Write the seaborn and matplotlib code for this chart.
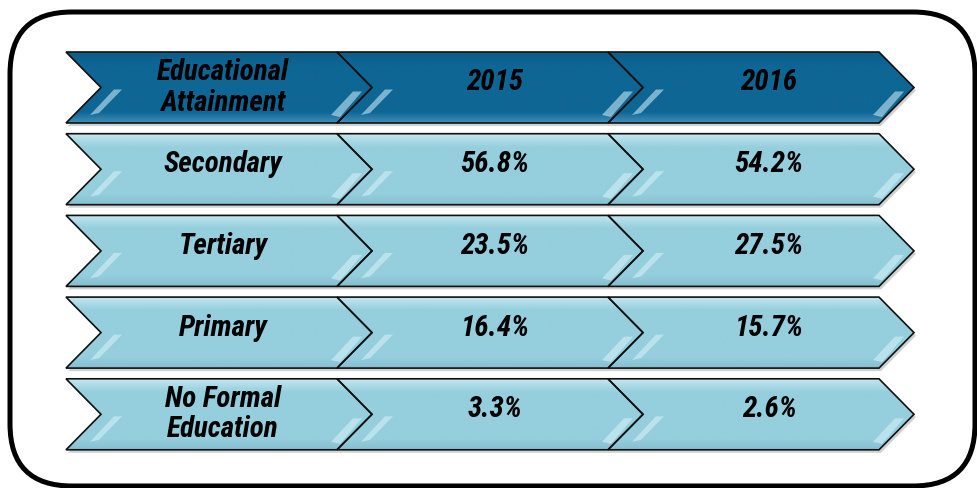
import numpy as np
import pandas as pd
import matplotlib
matplotlib.use('Agg')
import matplotlib.pyplot as plt
from matplotlib import font_manager
from matplotlib.patches import Polygon, FancyBboxPatch
import seaborn as sns

# table contents
header_label = 'Educational\nAttainment'
years = ['2015', '2016']
categories = ['Secondary', 'Tertiary', 'Primary', 'No Formal\nEducation']
share_2015 = [56.8, 23.5, 16.4, 3.3]
share_2016 = [54.2, 27.5, 15.7, 2.6]

df = pd.DataFrame({'category': categories, '2015': share_2015, '2016': share_2016})

sns.set_theme(style='white')

# reference uses a narrow bold italic face; use one if it is around
installed = {f.name for f in font_manager.fontManager.ttflist}
narrow = [n for n in ['Liberation Sans Narrow', 'Arial Narrow', 'Roboto Condensed',
                      'Open Sans Condensed'] if n in installed]
if narrow:
    plt.rcParams['font.family'] = [narrow[0], 'Liberation Sans', 'DejaVu Sans']
    font_size, line_sp = 21, 1.1
else:
    plt.rcParams['font.family'] = ['Liberation Sans', 'DejaVu Sans']
    font_size, line_sp = 18, 1.2

# layout (pixels)
col_left = [66, 337, 608]
body_w = 271
depth = 35
text_dx = [157, 158, 161]
row_top0 = 52
row_step = 81.7
row_h = 71

dark = '#0e6695'
light = '#95cedd'

fig = plt.figure(figsize=(9.77, 4.88), dpi=100)
ax = fig.add_axes([0, 0, 1, 1])
ax.set_xlim(0, 977)
ax.set_ylim(488, 0)
ax.axis('off')

border = FancyBboxPatch((10, 12), 965, 474, boxstyle='round,pad=0,rounding_size=62',
                        fill=False, ec='black', lw=3.6, zorder=1)
ax.add_patch(border)


def gradient(base, top_light, bottom_light):
    c = np.array(matplotlib.colors.to_rgb(base))
    t = np.array(matplotlib.colors.to_rgb(top_light))
    b = np.array(matplotlib.colors.to_rgb(bottom_light))
    pos = np.linspace(0, 1, 64)
    w_top = np.clip(1 - pos / 0.18, 0, 1)
    w_bot = np.clip((pos - 0.85) / 0.15, 0, 1)
    img = c[None, :] * (1 - w_top - w_bot)[:, None] + t[None, :] * w_top[:, None] + b[None, :] * w_bot[:, None]
    return img[:, None, :]


def chevron(left, top, color, top_light, bottom_light):
    bottom = top + row_h
    mid = top + row_h / 2
    right = left + body_w
    pts = [(left, top), (right, top), (right + depth, mid), (right, bottom),
           (left, bottom), (left + depth, mid)]
    # drop shadow
    shadow = Polygon([(x + 2, y + 3) for x, y in pts], closed=True, fc='black',
                     ec='none', alpha=0.18, zorder=2)
    ax.add_patch(shadow)
    poly = Polygon(pts, closed=True, fc=color, ec='none', zorder=3)
    ax.add_patch(poly)
    im = ax.imshow(gradient(color, top_light, bottom_light), aspect='auto',
                   extent=(left, right + depth, bottom, top), zorder=3.5,
                   interpolation='bilinear')
    im.set_clip_path(poly)
    outline = Polygon(pts, closed=True, fill=False, ec='#111111', lw=1.2, zorder=5)
    ax.add_patch(outline)
    # glossy curls
    curl_l = [(left + 24, bottom - 8), (left + 48, mid + 2), (left + 56, mid + 2), (left + 33, bottom - 10)]
    curl_r = [(right - 6, bottom - 8), (right + 16, mid + 4), (right + 25, mid + 4), (right + 3, bottom - 6)]
    for c in (curl_l, curl_r):
        ax.add_patch(Polygon(c, closed=True, fc='#d8f4fa', ec='none', alpha=0.55, zorder=4))


txt = dict(fontsize=font_size, fontweight='bold', fontstyle='italic', color='black',
           ha='center', linespacing=line_sp, zorder=6)


def cell_text(x, mid, s):
    if '\n' in s:
        ax.text(x, mid, s, va='center', **txt)
    else:
        ax.text(x, mid + 3, s, va='baseline', **txt)


# header row
head_cells = [header_label] + years
for j, left in enumerate(col_left):
    chevron(left, row_top0, dark, '#0c5d88', '#3f8fb8')
    cell_text(left + text_dx[j], row_top0 + row_h / 2, head_cells[j])

# data rows
for i, row in df.iterrows():
    top = row_top0 + (i + 1) * row_step
    mid = top + row_h / 2
    cells = [row['category'], f"{row['2015']:.1f}%", f"{row['2016']:.1f}%"]
    for j, left in enumerate(col_left):
        chevron(left, top, light, '#c2e6ef', '#86bfd0')
        cell_text(left + text_dx[j], mid, cells[j])

fig.savefig('out.png', dpi=100)
